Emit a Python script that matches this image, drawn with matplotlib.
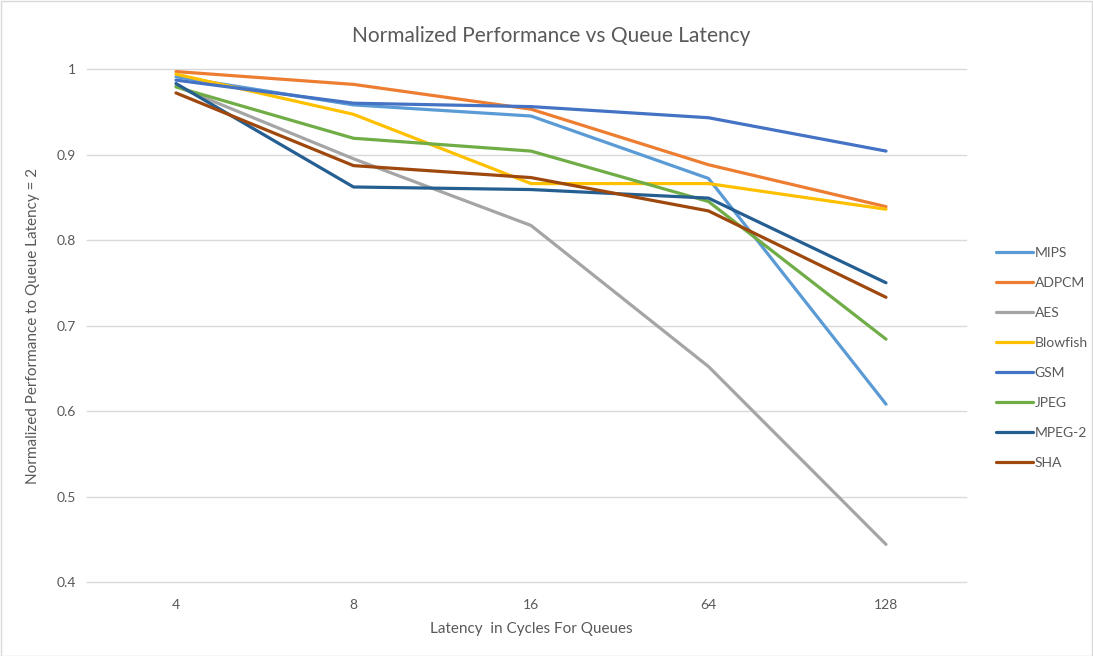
import matplotlib
matplotlib.use("Agg")
import matplotlib.pyplot as plt
from matplotlib.patches import Rectangle

categories = ["4", "8", "16", "64", "128"]
mips = [0.991, 0.958, 0.945, 0.872, 0.608]
adpcm = [0.997, 0.982, 0.953, 0.888, 0.839]
aes = [0.980, 0.895, 0.817, 0.652, 0.444]
blowfish = [0.994, 0.947, 0.866, 0.866, 0.836]
gsm = [0.987, 0.960, 0.956, 0.943, 0.904]
jpeg = [0.979, 0.919, 0.904, 0.845, 0.684]
mpeg2 = [0.983, 0.862, 0.859, 0.849, 0.750]
sha = [0.972, 0.887, 0.873, 0.834, 0.733]

series_names = ["MIPS", "ADPCM", "AES", "Blowfish", "GSM", "JPEG", "MPEG-2", "SHA"]
series_values = [mips, adpcm, aes, blowfish, gsm, jpeg, mpeg2, sha]
colors = ["#5B9BD5", "#ED7D31", "#A5A5A5", "#FFC000", "#4472C4", "#70AD47", "#255E91", "#9E480E"]

plt.rcParams['font.family'] = ['Lato', 'DejaVu Sans']
txt = "#595959"

fig = plt.figure(figsize=(10.93, 6.56), dpi=100)
W, H = 1093, 656
ax = fig.add_axes([87.25 / W, 1 - 582 / H, (974.75 - 87.25) / W, (582 - 69) / H])

x = list(range(len(categories)))
for name, vals, c in zip(series_names, series_values, colors):
    ax.plot(x, vals, color=c, lw=2.3, label=name, solid_capstyle='round', solid_joinstyle='round')

ax.set_xlim(-0.5, 4.5)
ax.set_ylim(0.4, 1.0)
yt = [0.4, 0.5, 0.6, 0.7, 0.8, 0.9, 1.0]
ax.set_yticks(yt)
ax.set_yticklabels(["0.4", "0.5", "0.6", "0.7", "0.8", "0.9", "1"])
ax.set_xticks(x)
ax.set_xticklabels(categories)
for v in yt:
    ax.plot([-0.5, 4.45], [v, v], color='#D9D9D9', lw=1, zorder=0, clip_on=False)
for s in ax.spines.values():
    s.set_visible(False)
ax.tick_params(length=0, colors=txt, labelsize=10)
ax.tick_params(axis='x', pad=12)
ax.tick_params(axis='y', pad=8)

ax.set_xlabel("Latency  in Cycles For Queues", color=txt, fontsize=11, labelpad=8)
ax.set_ylabel("Normalized Performance to Queue Latency = 2", color=txt, fontsize=11, labelpad=12)
fig.text(551 / W, 1 - 36 / H, "Normalized Performance vs Queue Latency", ha='center', va='center',
         color=txt, fontsize=15)

leg = ax.legend(loc='upper left', bbox_to_anchor=(989 / W, 1 - 240 / H), bbox_transform=fig.transFigure,
                frameon=False, fontsize=10, handlelength=2.7, handletextpad=0.1,
                labelspacing=1.3, borderpad=0)
for t in leg.get_texts():
    t.set_color(txt)

fig.patches.append(Rectangle((0.5 / W, 0.5 / H), 1 - 1.5 / W, 1 - 1.5 / H, transform=fig.transFigure,
                             fill=False, edgecolor='#D9D9D9', lw=1))

fig.savefig("out.png", dpi=100)
